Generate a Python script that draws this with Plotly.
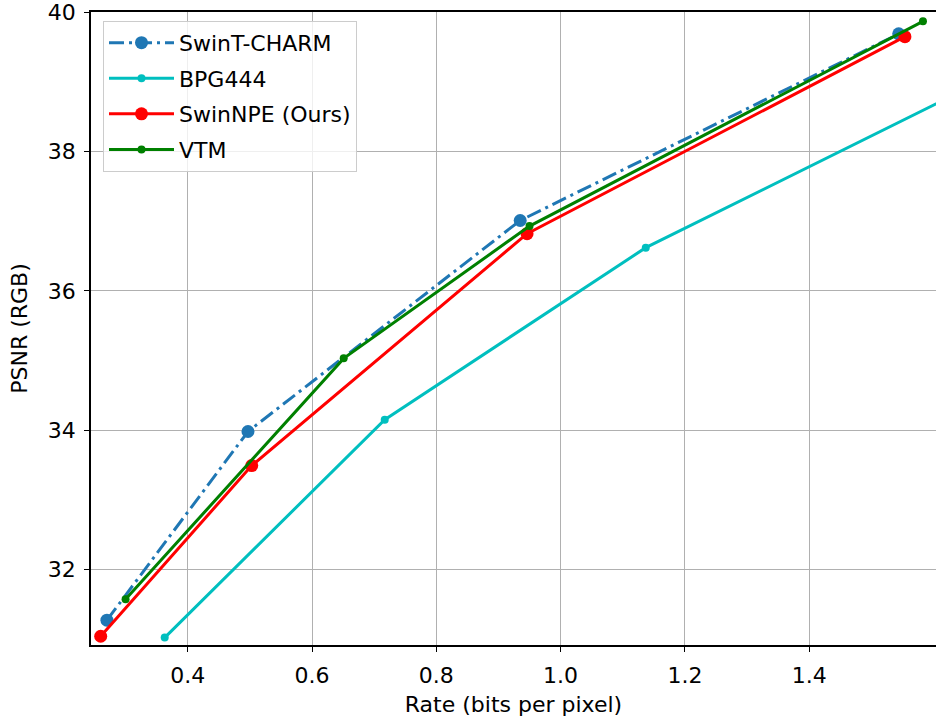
import plotly.graph_objects as go

# Data
charm_x = [0.270, 0.497, 0.935, 1.544]
charm_y = [31.27, 33.98, 37.01, 39.69]

bpg_x = [0.363, 0.717, 1.137, 1.750]
bpg_y = [31.02, 34.15, 36.62, 39.33]

npe_x = [0.260, 0.503, 0.946, 1.554]
npe_y = [31.04, 33.49, 36.82, 39.65]

vtm_x = [0.300, 0.651, 0.950, 1.583]
vtm_y = [31.57, 35.03, 36.93, 39.87]

x_ticks = [0.4, 0.6, 0.8, 1.0, 1.2, 1.4]
y_ticks = [32, 34, 36, 38, 40]

FONT = "DejaVu Sans"
FS = 22

fig = go.Figure()
fig.add_trace(go.Scatter(
    x=charm_x, y=charm_y, name="SwinT-CHARM", mode="lines+markers",
    line=dict(color="#1f77b4", width=3, dash="15px,5px,3px,5px"),
    marker=dict(color="#1f77b4", size=13), legendgroup="a"))
fig.add_trace(go.Scatter(
    x=bpg_x, y=bpg_y, name="BPG444", mode="lines+markers",
    line=dict(color="#00bfbf", width=3),
    marker=dict(color="#00bfbf", size=8), legendgroup="b"))
fig.add_trace(go.Scatter(
    x=npe_x, y=npe_y, name="SwinNPE (Ours)", mode="lines+markers",
    line=dict(color="#ff0000", width=3),
    marker=dict(color="#ff0000", size=13), legendgroup="c"))
fig.add_trace(go.Scatter(
    x=vtm_x, y=vtm_y, name="VTM", mode="lines+markers",
    line=dict(color="#008000", width=3),
    marker=dict(color="#008000", size=8), legendgroup="d"))

axis_common = dict(
    showgrid=True, gridcolor="#b0b0b0", gridwidth=1,
    showline=True, linecolor="black", linewidth=1.5,
    ticks="outside", ticklen=5, tickwidth=1.2, tickcolor="black",
    zeroline=False, tickfont=dict(family=FONT, size=FS, color="black"),
    ticklabeloverflow="allow",
)

fig.update_xaxes(range=[0.2444, 1.604], tickvals=x_ticks,
                 ticktext=["0.4", "0.6", "0.8", "1.0", "1.2", "1.4"],
                 mirror=True, ticklabelstandoff=5,
                 title=dict(text="Rate (bits per pixel)", font=dict(family=FONT, size=FS, color="black"),
                            standoff=9),
                 **axis_common)
fig.update_yaxes(range=[30.914, 40.004], tickvals=y_ticks,
                 mirror=False, ticklabelstandoff=4,
                 title=dict(text="PSNR (RGB)", font=dict(family=FONT, size=FS, color="black"),
                            standoff=14),
                 **axis_common)

fig.update_layout(
    width=936, height=719,
    margin=dict(l=91, r=0, t=12, b=74),
    plot_bgcolor="white", paper_bgcolor="white",
    font=dict(family=FONT, size=FS, color="black"),
    legend=dict(x=0.0142, y=0.986, xanchor="left", yanchor="top",
                bgcolor="rgba(255,255,255,0.8)", bordercolor="#cccccc", borderwidth=1,
                font=dict(family=FONT, size=FS, color="black"),
                itemwidth=65,
                tracegroupgap=4, traceorder="grouped"),
    showlegend=True,
)

fig.write_html("out.html")
